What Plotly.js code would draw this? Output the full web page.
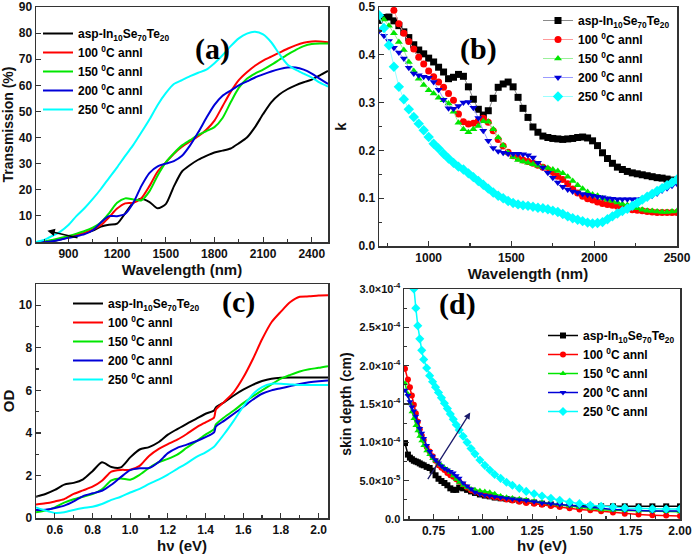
<!DOCTYPE html>
<html>
<head>
<meta charset="utf-8">
<script src="https://cdn.plot.ly/plotly-3.0.1.min.js"></script>
<style>html,body{margin:0;padding:0;background:#fff;}#chart{width:692px;height:554px;}</style>
</head>
<body>
<div id="chart"></div>
<script>
// ---------- series names ----------
const seriesNames = ['asp-In<sub>10</sub>Se<sub>70</sub>Te<sub>20</sub>', '100 <sup>0</sup>C annl', '150 <sup>0</sup>C annl', '200 <sup>0</sup>C annl', '250 <sup>0</sup>C annl'];

// ---------- (a) Transmission (%) vs wavelength (nm) ----------
const lamA = [700,750,800,850,900,950,1000,1050,1100,1150,1200,1250,1300,1350,1400,1450,1500,1550,1600,1650,1700,1750,1800,1850,1900,1950,2000,2050,2100,2150,2200,2250,2300,2350,2400,2450,2500];
const transAsp = [0,0,0.3,1.0,1.8,2.6,3.4,4.4,5.9,6.6,7.0,11.0,15.0,16.6,15.3,12.9,14.5,21.3,27.0,29.5,31.5,33.0,34.3,35.0,35.8,37.8,40.0,44.0,49.0,53.5,56.5,58.5,60.0,61.2,62.2,63.8,65.5];
const trans100 = [0,0,0.5,1.2,2.0,2.8,3.5,4.8,6.5,9.5,12.8,14.8,15.0,16.8,21.5,27.0,30.5,33.8,36.5,38.5,40.5,43.0,46.5,52.0,57.5,62.0,65.0,67.5,69.5,71.0,72.5,74.0,75.3,76.3,76.8,76.8,76.5];
const trans150 = [0,0.2,0.8,1.5,2.3,3.2,4.2,5.5,7.5,11.0,15.0,16.7,16.3,16.0,19.5,25.5,30.5,34.0,37.0,39.0,41.0,42.5,44.0,47.5,53.5,59.0,62.5,64.5,66.0,67.8,69.8,71.8,73.5,75.0,75.8,76.0,76.0];
const trans200 = [0,0,0.3,0.9,1.6,2.2,3.0,4.5,7.5,9.9,9.9,10.8,15.0,21.5,26.5,29.0,30.0,31.0,33.0,37.0,42.0,47.5,52.5,56.0,58.0,60.0,61.5,63.0,64.2,65.3,66.2,66.8,66.8,66.0,64.5,62.5,60.5];
const trans250 = [0,0.8,2.3,4.0,6.5,10.0,13.0,16.5,20.3,24.5,28.6,33.0,37.2,42.0,47.0,52.5,57.0,60.5,62.0,63.5,64.8,66.0,68.5,71.5,75.0,78.0,79.8,80.5,79.5,76.5,72.0,68.0,66.0,64.5,63.0,61.0,59.5];

// ---------- (b) extinction coefficient k vs wavelength (nm) ----------
const lamB = [700,730,760,790,820,850,880,910,940,970,1000,1030,1060,1090,1120,1150,1180,1210,1240,1270,1300,1330,1360,1390,1420,1450,1480,1510,1540,1570,1600,1630,1660,1690,1720,1750,1780,1810,1840,1870,1900,1930,1960,1990,2020,2050,2080,2110,2140,2170,2200,2230,2260,2290,2320,2350,2380,2410,2440,2470,2500];
const kAsp = [0.472,0.478,0.479,0.471,0.461,0.448,0.436,0.421,0.410,0.402,0.393,0.385,0.374,0.364,0.350,0.353,0.359,0.355,0.333,0.307,0.286,0.274,0.283,0.309,0.332,0.339,0.343,0.333,0.311,0.288,0.269,0.249,0.238,0.230,0.227,0.225,0.224,0.223,0.224,0.225,0.227,0.228,0.226,0.220,0.210,0.195,0.183,0.173,0.165,0.160,0.156,0.153,0.151,0.149,0.147,0.145,0.143,0.142,0.140,0.138,0.136];
const k100 = [null,null,null,0.493,0.465,0.445,0.428,0.412,0.395,0.381,0.366,0.354,0.343,0.332,0.319,0.305,0.276,0.260,0.255,0.257,0.262,0.267,0.259,0.241,0.223,0.209,0.196,0.189,0.184,0.180,0.177,0.173,0.169,0.165,0.160,0.154,0.146,0.139,0.130,0.119,0.111,0.104,0.099,0.096,0.092,0.089,0.087,0.085,0.083,0.082,0.079,0.076,0.075,0.074,0.072,0.071,0.070,0.070,0.070,0.070,0.070];
const k150 = [0.485,0.474,0.461,0.445,0.427,0.410,0.385,0.366,0.350,0.337,0.326,0.319,0.310,0.305,0.298,0.281,0.258,0.244,0.238,0.244,0.251,0.261,0.260,0.244,0.227,0.210,0.195,0.186,0.180,0.177,0.174,0.171,0.168,0.165,0.163,0.160,0.157,0.152,0.145,0.136,0.127,0.120,0.113,0.108,0.105,0.100,0.097,0.094,0.091,0.088,0.086,0.082,0.079,0.076,0.074,0.073,0.072,0.071,0.071,0.072,0.073];
const k200 = [0.450,0.440,0.429,0.415,0.405,0.392,0.373,0.361,0.357,0.354,0.352,0.343,0.327,0.306,0.288,0.287,0.293,0.300,0.301,0.289,0.268,0.241,0.220,0.205,0.198,0.195,0.193,0.193,0.193,0.192,0.190,0.185,0.174,0.164,0.153,0.143,0.133,0.124,0.118,0.114,0.112,0.109,0.107,0.105,0.103,0.102,0.100,0.099,0.098,0.098,0.098,0.098,0.098,0.099,0.101,0.105,0.110,0.116,0.121,0.126,0.130];
const k250 = [0.483,0.456,0.420,0.375,0.333,0.307,0.286,0.270,0.256,0.242,0.228,0.214,0.204,0.193,0.183,0.174,0.166,0.160,0.152,0.144,0.136,0.128,0.120,0.112,0.105,0.100,0.094,0.090,0.087,0.085,0.084,0.082,0.080,0.079,0.077,0.074,0.071,0.067,0.062,0.058,0.055,0.052,0.049,0.047,0.048,0.050,0.056,0.062,0.068,0.073,0.078,0.084,0.090,0.097,0.103,0.109,0.115,0.121,0.127,0.133,0.139];

// ---------- (c) OD vs photon energy (eV) ----------
const eC = [0.50,0.55,0.60,0.65,0.70,0.75,0.80,0.85,0.90,0.95,1.00,1.05,1.10,1.15,1.20,1.25,1.30,1.35,1.40,1.445,1.455,1.50,1.55,1.60,1.65,1.70,1.75,1.80,1.85,1.90,1.95,2.00,2.05];
const odAsp = [1.00,1.13,1.32,1.57,1.65,1.82,2.20,2.62,2.40,2.38,2.85,3.22,3.33,3.56,3.92,4.18,4.43,4.66,4.90,5.05,5.20,5.45,5.76,6.03,6.26,6.44,6.55,6.59,6.60,6.60,6.60,6.60,6.60];
const od100 = [0.63,0.69,0.78,0.89,1.13,1.30,1.47,1.75,2.18,2.26,2.27,2.45,2.92,3.24,3.47,3.68,3.95,4.25,4.50,4.72,5.10,5.47,5.92,6.60,7.45,8.40,9.20,9.70,10.15,10.40,10.42,10.46,10.47];
const od150 = [0.27,0.35,0.50,0.72,0.88,1.00,1.12,1.35,1.77,1.86,1.80,2.03,2.35,2.62,2.78,2.98,3.30,3.60,3.92,4.18,4.40,4.74,5.05,5.40,5.71,6.00,6.28,6.55,6.73,6.89,6.99,7.06,7.14];
const od200 = [0.38,0.39,0.47,0.58,0.78,1.03,1.16,1.28,1.56,1.92,2.25,2.34,2.35,2.62,3.05,3.30,3.45,3.61,3.80,4.02,4.30,4.58,4.90,5.22,5.56,5.84,6.00,6.10,6.20,6.30,6.38,6.43,6.46];
const od250 = [0.50,0.35,0.24,0.27,0.38,0.47,0.53,0.66,0.85,1.00,1.20,1.37,1.60,1.80,2.04,2.31,2.57,2.86,3.09,3.35,3.45,3.96,4.58,5.24,5.81,6.15,6.31,6.31,6.28,6.25,6.25,6.25,6.25];

// ---------- (d) skin depth (x10^-4 cm) vs photon energy (eV) ----------
const eD = [0.605,0.62,0.63,0.64,0.65,0.66,0.67,0.68,0.69,0.70,0.715,0.73,0.745,0.76,0.775,0.79,0.805,0.82,0.835,0.85,0.865,0.88,0.90,0.92,0.94,0.96,0.985,1.01,1.035,1.06,1.09,1.12,1.15,1.185,1.22,1.26,1.30,1.345,1.39,1.44,1.49,1.545,1.60,1.66,1.72,1.79,1.86,1.93,2.00];
const sdAsp = [0.99,0.84,0.80,0.78,0.76,0.75,0.74,0.725,0.71,0.70,0.68,0.665,0.63,0.57,0.525,0.495,0.47,0.44,0.40,0.38,0.38,0.41,0.40,0.38,0.36,0.34,0.32,0.305,0.295,0.28,0.27,0.26,0.25,0.24,0.23,0.215,0.20,0.19,0.18,0.175,0.17,0.165,0.165,0.165,0.165,0.165,0.165,0.165,0.165];
const sd100 = [1.96,1.82,1.72,1.61,1.49,1.38,1.27,1.17,1.09,1.03,0.94,0.88,0.82,0.76,0.70,0.67,0.64,0.60,0.57,0.55,0.52,0.49,0.45,0.41,0.375,0.355,0.335,0.315,0.30,0.285,0.27,0.255,0.24,0.225,0.21,0.20,0.185,0.17,0.155,0.14,0.125,0.115,0.10,0.085,0.068,0.058,0.05,0.045,0.04];
const sd150 = [1.77,1.63,1.51,1.40,1.31,1.22,1.15,1.08,1.02,0.96,0.89,0.84,0.79,0.76,0.73,0.70,0.67,0.645,0.61,0.565,0.52,0.48,0.44,0.41,0.39,0.38,0.37,0.36,0.35,0.33,0.30,0.285,0.275,0.265,0.25,0.235,0.22,0.20,0.185,0.17,0.15,0.135,0.12,0.115,0.11,0.105,0.10,0.097,0.095];
const sd200 = [1.68,1.61,1.53,1.46,1.41,1.34,1.27,1.18,1.12,1.05,0.96,0.88,0.82,0.77,0.73,0.69,0.66,0.64,0.62,0.60,0.565,0.53,0.47,0.43,0.39,0.35,0.325,0.31,0.30,0.29,0.28,0.27,0.26,0.25,0.24,0.225,0.21,0.20,0.19,0.18,0.165,0.155,0.14,0.125,0.115,0.11,0.105,0.105,0.105];
const sd250 = [null,null,null,3.3,3.0,2.75,2.52,2.35,2.20,2.08,1.97,1.87,1.79,1.72,1.65,1.58,1.51,1.44,1.37,1.30,1.23,1.16,1.08,1.00,0.92,0.85,0.77,0.70,0.64,0.58,0.53,0.48,0.44,0.40,0.36,0.33,0.30,0.27,0.245,0.22,0.20,0.18,0.165,0.155,0.145,0.138,0.133,0.13,0.13];
const sdTickVals = [0,0.5,1.0,1.5,2.0,2.5,3.0];
const sdTickText = ['0.0','5.0×10<sup>-5</sup>','1.0×10<sup>-4</sup>','1.5×10<sup>-4</sup>','2.0×10<sup>-4</sup>','2.5×10<sup>-4</sup>','3.0×10<sup>-4</sup>'];

// ---------- styling ----------
const colors = ['#000000','#ff0000','#00e600','#0000d8','#00ffff'];
const lightLine = ['#8a8a8a','#ff9a9a','#9af09a','#9a9aff','#9affff'];
const symbolsB = ['square','circle','triangle-up','triangle-down','diamond'];
const F = 'Liberation Sans, Arial, Helvetica, sans-serif';
const SERIF = 'Liberation Serif, Times New Roman, serif';

const traces = [];
function addLines(x, ys, xa, ya, leg) {
  ys.forEach((y, i) => traces.push({
    type: 'scatter', mode: 'lines', x: x, y: y, name: seriesNames[i],
    xaxis: xa, yaxis: ya, legend: leg,
    line: {color: colors[i], width: 2, shape: 'spline', smoothing: 0.7}
  }));
}
addLines(lamA, [transAsp, trans100, trans150, trans200, trans250], 'x', 'y', 'legend');
[kAsp, k100, k150, k200, k250].forEach((y, i) => traces.push({
  type: 'scatter', mode: 'lines+markers', x: lamB, y: y, name: seriesNames[i],
  xaxis: 'x2', yaxis: 'y2', legend: 'legend2',
  line: {color: lightLine[i], width: 1},
  marker: {color: colors[i], symbol: symbolsB[i], size: i === 4 ? 8 : 7}
}));
addLines(eC, [odAsp, od100, od150, od200, od250], 'x3', 'y3', 'legend3');
[sdAsp, sd100, sd150, sd200, sd250].forEach((y, i) => traces.push({
  type: 'scatter', mode: 'lines+markers', x: eD, y: y, name: seriesNames[i],
  xaxis: 'x4', yaxis: 'y4', legend: 'legend4',
  line: {color: colors[i], width: 1.5},
  marker: {color: colors[i], symbol: symbolsB[i], size: i === 4 ? 7 : 6}
}));

function ax(extra) {
  return Object.assign({
    showline: true, mirror: true, linecolor: '#333', linewidth: 1.5,
    ticks: 'inside', ticklen: 5, tickwidth: 1.2, tickcolor: '#333',
    showgrid: false, zeroline: false, automargin: false, ticklabeloverflow: 'allow',
    tickfont: {family: F, size: 12, weight: 'bold', color: '#111'}
  }, extra);
}
function ttl(text, standoff, size) {
  return {text: text, standoff: standoff, font: {family: F, size: size || 15, weight: 'bold', color: '#111'}};
}
function leg(x, y) {
  return {x: x, y: y, xanchor: 'left', yanchor: 'top', bgcolor: 'rgba(0,0,0,0)',
    font: {family: F, size: 12, weight: 'bold', color: '#000'}, itemwidth: 30, tracegroupgap: 0};
}
const W = 692, H = 554;
const px = v => v / W, py = v => 1 - v / H;

const layout = {
  width: W, height: H, margin: {l: 0, r: 0, t: 0, b: 0},
  paper_bgcolor: '#fff', plot_bgcolor: '#fff', showlegend: true,
  xaxis: ax({domain: [px(36), px(328)], anchor: 'y', range: [700, 2500], tick0: 900, dtick: 300,
    minor: {ticks: 'inside', ticklen: 3, dtick: 150, tickcolor: '#333'}, title: ttl('Wavelength (nm)', 4)}),
  yaxis: ax({domain: [py(242), py(7)], anchor: 'x', range: [0, 90], dtick: 10,
    title: ttl('Transmission (%)', 6, 14)}),
  xaxis2: ax({domain: [px(379), px(677)], anchor: 'y2', range: [700, 2500], tick0: 1000, dtick: 500,
    minor: {ticks: 'inside', ticklen: 3, dtick: 250, tickcolor: '#333'}, title: ttl('Wavelength (nm)', 4)}),
  yaxis2: ax({domain: [py(246), py(7)], anchor: 'x2', range: [0, 0.5], dtick: 0.1, tickformat: '.1f',
    minor: {ticks: 'inside', ticklen: 3, dtick: 0.05, tickcolor: '#333'}, title: ttl('k', 8)}),
  xaxis3: ax({domain: [px(36), px(328)], anchor: 'y3', range: [0.5, 2.05], tick0: 0.6, dtick: 0.2, tickformat: '.1f',
    minor: {ticks: 'inside', ticklen: 3, dtick: 0.1, tickcolor: '#333'}, title: ttl('hν (eV)', 4)}),
  yaxis3: ax({domain: [py(518), py(284)], anchor: 'x3', range: [0, 11], dtick: 2,
    minor: {ticks: 'inside', ticklen: 3, dtick: 1, tickcolor: '#333'}, title: ttl('OD', 8)}),
  xaxis4: ax({domain: [px(404), px(680)], anchor: 'y4', range: [0.6, 2.0001], tick0: 0.75, dtick: 0.25, tickformat: '.2f',
    minor: {ticks: 'inside', ticklen: 3, dtick: 0.125, tickcolor: '#333'}, title: ttl('hν (eV)', 4)}),
  yaxis4: ax({domain: [py(519), py(289)], anchor: 'x4', range: [0, 3], tickvals: sdTickVals, ticktext: sdTickText,
    tickfont: {family: F, size: 11, weight: 'bold', color: '#111'},
    minor: {ticks: 'inside', ticklen: 3, dtick: 0.25, tickcolor: '#333'}, title: ttl('skin depth (cm)', 4, 14)}),
  legend: leg(px(38), py(19)),
  legend2: leg(px(538), py(6)),
  legend3: leg(px(68), py(289)),
  legend4: leg(px(543), py(321)),
  annotations: [
    {xref: 'paper', yref: 'paper', x: px(193), y: py(30), text: '<b>(a)</b>', showarrow: false, font: {family: SERIF, size: 30, color: '#000'}},
    {xref: 'paper', yref: 'paper', x: px(499), y: py(30), text: '<b>(b)</b>', showarrow: false, font: {family: SERIF, size: 30, color: '#000'}},
    {xref: 'paper', yref: 'paper', x: px(238), y: py(302), text: '<b>(c)</b>', showarrow: false, font: {family: SERIF, size: 30, color: '#000'}},
    {xref: 'paper', yref: 'paper', x: px(478), y: py(304), text: '<b>(d)</b>', showarrow: false, font: {family: SERIF, size: 30, color: '#000'}},
    {xref: 'x', yref: 'y', axref: 'x', ayref: 'y', x: 770, y: 4.3, ax: 965, ay: 1.5, text: '', showarrow: true,
      arrowhead: 2, arrowsize: 1, arrowwidth: 1.5, arrowcolor: '#000'},
    {xref: 'x4', yref: 'y4', axref: 'x4', ayref: 'y4', x: 0.936, y: 1.39, ax: 0.716, ay: 0.5, text: '', showarrow: true,
      arrowhead: 2, arrowsize: 1, arrowwidth: 1.3, arrowcolor: '#1b1b6b'}
  ]
};

Plotly.newPlot('chart', traces, layout, {staticPlot: true, displayModeBar: false});
</script>
</body>
</html>
